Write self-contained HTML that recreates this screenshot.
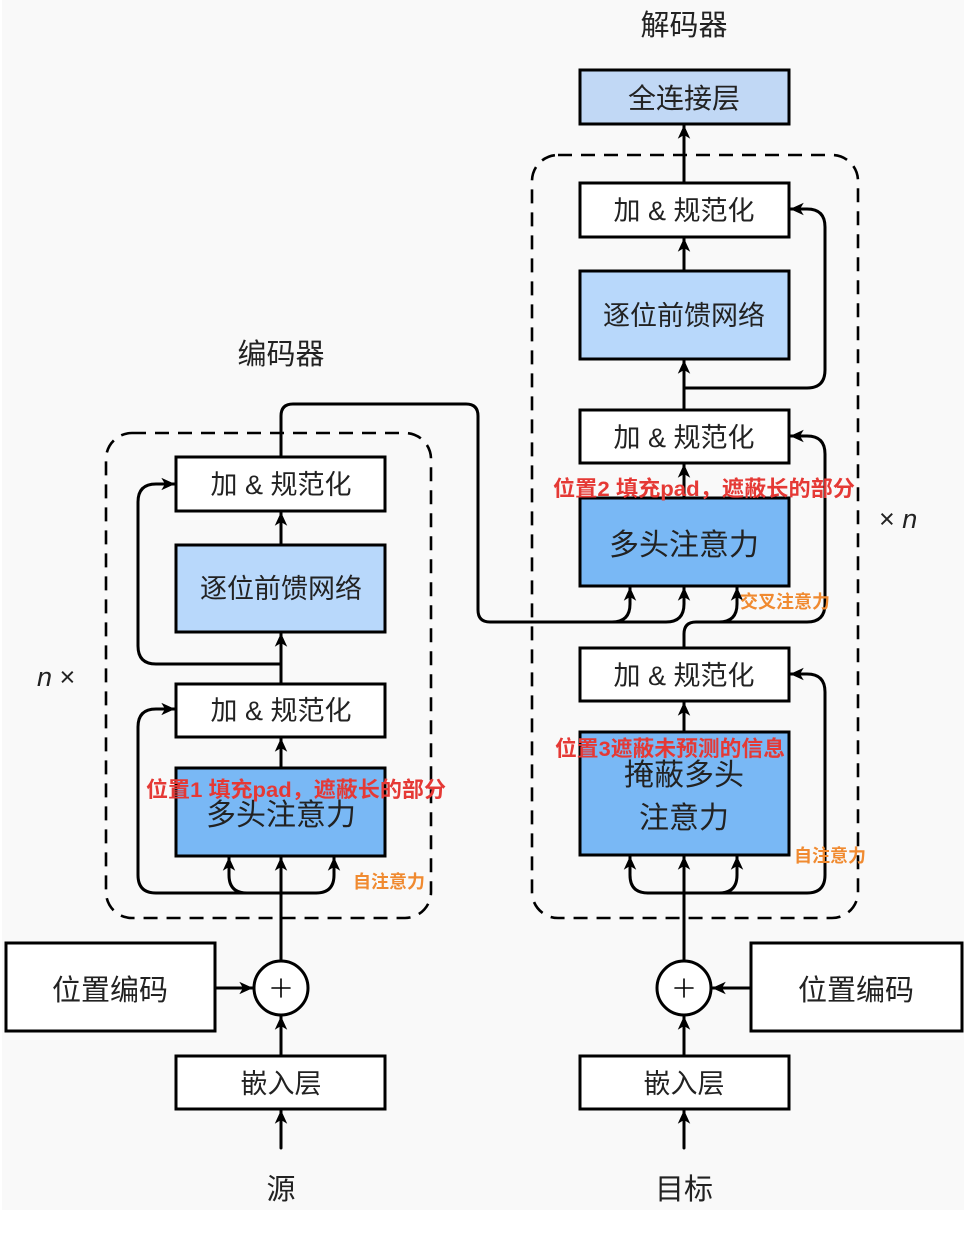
<!DOCTYPE html>
<html><head><meta charset="utf-8"><style>
html,body{margin:0;padding:0;background:#fff;}
svg{display:block}
text{font-family:"Liberation Sans","Noto Sans CJK SC",sans-serif;}
</style></head><body>
<svg width="966" height="1237" viewBox="0 0 966 1237" xmlns="http://www.w3.org/2000/svg">
<defs>
<marker id="a" viewBox="0 0 12 12" refX="11" refY="6" markerWidth="15" markerHeight="15" markerUnits="userSpaceOnUse" orient="auto">
<path d="M0,1 L11,6 L0,11 L3,6 Z" fill="#000"/>
</marker>
</defs>
<rect x="2" y="0" width="962" height="1210" fill="#f9f9f9"/>
<g fill="none" stroke="#000" stroke-width="3" stroke-linejoin="round">
<rect x="106" y="433" width="325" height="485" rx="26" stroke-dasharray="14,9" stroke-width="2.6"/>
<rect x="532" y="155" width="326" height="763" rx="26" stroke-dasharray="14,9" stroke-width="2.6"/>
</g>
<g stroke="#000" stroke-width="3">
<rect x="176" y="457" width="209" height="54" fill="#fff"/>
<rect x="176" y="545" width="209" height="87" fill="#b8d8fb"/>
<rect x="176" y="684" width="209" height="53" fill="#fff"/>
<rect x="176" y="768" width="209" height="88" fill="#79b8f5"/>
<rect x="6" y="943" width="209" height="88" fill="#fff"/>
<rect x="176" y="1056" width="209" height="53" fill="#fff"/>
<circle cx="281" cy="988" r="27" fill="#fff"/>
<rect x="580" y="70" width="209" height="54" fill="#c1d8f5"/>
<rect x="580" y="183" width="209" height="54" fill="#fff"/>
<rect x="580" y="271" width="209" height="88" fill="#b8d8fb"/>
<rect x="580" y="410" width="209" height="53" fill="#fff"/>
<rect x="580" y="498" width="209" height="88" fill="#79b8f5"/>
<rect x="580" y="648" width="209" height="53" fill="#fff"/>
<rect x="580" y="732" width="209" height="123" fill="#79b8f5"/>
<rect x="751" y="943" width="211" height="88" fill="#fff"/>
<rect x="580" y="1056" width="209" height="53" fill="#fff"/>
<circle cx="684" cy="988" r="27" fill="#fff"/>
</g>
<g fill="none" stroke="#000" stroke-width="3" stroke-linejoin="round" stroke-linecap="round">
<path d="M272,988h18M281,979v18M675,988h18M684,979v18" stroke-width="1.6"/>
<path d="M281,1148 V1110" marker-end="url(#a)"/>
<path d="M281,1056 V1016" marker-end="url(#a)"/>
<path d="M215,988 H253" marker-end="url(#a)"/>
<path d="M281,961 V857" marker-end="url(#a)"/>
<path d="M316,893 H156 Q138,893 138,875 V727 Q138,709 156,709 H175" marker-end="url(#a)"/>
<path d="M247,893 Q229,893 229,875 V857" marker-end="url(#a)"/>
<path d="M316,893 Q334,893 334,875 V857" marker-end="url(#a)"/>
<path d="M281,768 V738" marker-end="url(#a)"/>
<path d="M281,684 V633" marker-end="url(#a)"/>
<path d="M281,664 H156 Q138,664 138,646 V502 Q138,484 156,484 H175" marker-end="url(#a)"/>
<path d="M281,545 V512" marker-end="url(#a)"/>
<path d="M281,457 V416 Q281,404 293,404 H466 Q478,404 478,416 V610 Q478,622 490,622 H612 Q630,622 630,604 V587" marker-end="url(#a)"/>
<path d="M684,1148 V1110" marker-end="url(#a)"/>
<path d="M684,1056 V1016" marker-end="url(#a)"/>
<path d="M751,988 H712" marker-end="url(#a)"/>
<path d="M684,961 V856" marker-end="url(#a)"/>
<path d="M648,893 H807 Q825,893 825,875 V692 Q825,674 807,674 H790" marker-end="url(#a)"/>
<path d="M648,893 Q630,893 630,875 V856" marker-end="url(#a)"/>
<path d="M719,893 Q737,893 737,875 V856" marker-end="url(#a)"/>
<path d="M684,732 V702" marker-end="url(#a)"/>
<path d="M684,648 V634 Q684,622 696,622 H807 Q825,622 825,604 V454 Q825,436 807,436 H790" marker-end="url(#a)"/>
<path d="M719,622 Q737,622 737,604 V587" marker-end="url(#a)"/>
<path d="M612,622 H666 Q684,622 684,604 V587" marker-end="url(#a)"/>
<path d="M684,498 V464" marker-end="url(#a)"/>
<path d="M684,410 V360" marker-end="url(#a)"/>
<path d="M684,388 H807 Q825,388 825,370 V227 Q825,209 807,209 H790" marker-end="url(#a)"/>
<path d="M684,271 V238" marker-end="url(#a)"/>
<path d="M684,183 V125" marker-end="url(#a)"/>
</g>
<g fill="#222" font-size="27" text-anchor="middle">
<text x="281" y="364" font-size="29">编码器</text>
<text x="684" y="35" font-size="29">解码器</text>
<text x="281" y="494">加 &amp; 规范化</text>
<text x="281" y="598">逐位前馈网络</text>
<text x="281" y="720">加 &amp; 规范化</text>
<text x="281" y="825" font-size="30">多头注意力</text>
<text x="110" y="1000" font-size="29">位置编码</text>
<text x="281" y="1093">嵌入层</text>
<text x="281" y="1199" font-size="29">源</text>
<text x="684" y="108" font-size="28">全连接层</text>
<text x="684" y="220">加 &amp; 规范化</text>
<text x="684" y="325">逐位前馈网络</text>
<text x="684" y="447">加 &amp; 规范化</text>
<text x="684" y="555" font-size="30">多头注意力</text>
<text x="684" y="685">加 &amp; 规范化</text>
<text x="684" y="785" font-size="30">掩蔽多头</text>
<text x="684" y="828" font-size="30">注意力</text>
<text x="856" y="1000" font-size="29">位置编码</text>
<text x="684" y="1093">嵌入层</text>
<text x="684" y="1199" font-size="29">目标</text>
</g>
<g font-family="Liberation Serif,serif" font-size="27" fill="#222">
<text x="37" y="686"><tspan font-style="italic">n</tspan> ×</text>
<text x="879" y="528">× <tspan font-style="italic">n</tspan></text>
</g>
<g fill="#e53935" font-size="21.5" font-weight="bold">
<text x="146" y="797" textLength="300" lengthAdjust="spacingAndGlyphs">位置1 填充pad，遮蔽长的部分</text>
<text x="553" y="496" textLength="302" lengthAdjust="spacingAndGlyphs">位置2 填充pad，遮蔽长的部分</text>
<text x="555" y="756" textLength="230" lengthAdjust="spacingAndGlyphs">位置3遮蔽未预测的信息</text>
</g>
<g fill="#f08a30" font-size="18" font-weight="bold">
<text x="353" y="888" textLength="72" lengthAdjust="spacingAndGlyphs">自注意力</text>
<text x="740" y="608" textLength="90" lengthAdjust="spacingAndGlyphs">交叉注意力</text>
<text x="794" y="862" textLength="72" lengthAdjust="spacingAndGlyphs">自注意力</text>
</g>
</svg>
</body></html>
